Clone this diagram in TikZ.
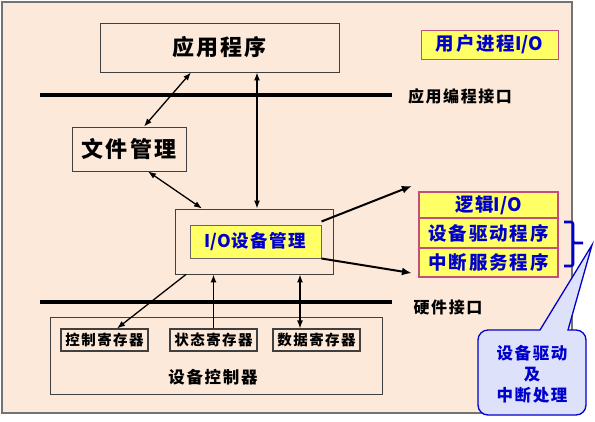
\documentclass[tikz,border=0pt]{standalone}
\usepackage{fontspec}
\newfontfamily\cjk{Noto Sans CJK SC}[LetterSpace=10]
\newfontfamily\iofont{Noto Sans CJK SC}
\newcommand{\IO}{{\iofont\bfseries I/O}}
\usetikzlibrary{arrows.meta,calc}
\definecolor{bgpeach}{HTML}{FDE9D9}
\definecolor{ylw}{HTML}{FFFF66}
\definecolor{pinkb}{HTML}{C0507A}
\definecolor{txtblue}{HTML}{0000CC}
\definecolor{calloutfill}{HTML}{DDE2FA}
\newcommand{\fs}[1]{\fontsize{#1}{#1}\selectfont}
\begin{document}
\begin{tikzpicture}[x=1pt,y=-1pt,font=\cjk\bfseries,
  plainbox/.style={draw=black!75,line width=0.9pt,inner sep=0pt,anchor=center},
  regbox/.style={plainbox,line width=1.1pt,minimum width=87pt,minimum height=22pt,font=\cjk\bfseries\fs{14.5}},
  yellowbox/.style={draw=pinkb,fill=ylw,inner sep=0pt,text=txtblue},
  stackbox/.style={yellowbox,line width=2.2pt,minimum width=139pt,font=\cjk\bfseries\fs{18.5}},
  dbl/.style={{Latex[length=8pt,width=6pt]}-{Latex[length=8pt,width=6pt]},line width=1.3pt},
  one/.style={-{Latex[length=8pt,width=6pt]},line width=1.3pt},
  thickarrow/.style={-{Latex[length=10pt,width=8pt]},line width=2pt},
  bar/.style={line width=4pt},
  lbl/.style={inner sep=0pt}]
\useasboundingbox (0,0) rectangle (595,421);
% frame
\draw[fill=bgpeach,draw=black!55,line width=1.3pt] (2,2) rectangle (572,413);

% nodes
\node[plainbox,minimum width=239pt,minimum height=49pt,font=\cjk\bfseries\fs{22}] (app) at (219.5,47.5) {应用程序};
\node[plainbox,minimum width=114pt,minimum height=44pt,font=\cjk\bfseries\fs{22}] (filemgmt) at (129,149) {文件管理};
\node[plainbox,minimum width=158pt,minimum height=65pt] (iobox) at (254,241.5) {};
\node[yellowbox,draw=black!60,line width=1pt,minimum width=131pt,minimum height=33pt,font=\cjk\bfseries\fs{17.5}] (ioinner) at (255.5,241.5) {\IO 设备管理};
\node[yellowbox,line width=1pt,minimum width=137pt,minimum height=29pt,font=\cjk\bfseries\fs{18.5}] (userio) at (489.5,44.5) {用户进程\IO};

\node[lbl,font=\cjk\bfseries\fs{16}] (apilabel) at (460,96) {应用编程接口};
\node[lbl,font=\cjk\bfseries\fs{16}] (hwlabel) at (448,307) {硬件接口};

\node[plainbox,minimum width=332pt,minimum height=77pt] (ctrlbox) at (216,355.5) {};
\node[regbox] (reg1) at (104.5,340) {控制寄存器};
\node[regbox] (reg2) at (213.5,340) {状态寄存器};
\node[regbox] (reg3) at (316.5,340) {数据寄存器};
\node[lbl,font=\cjk\bfseries\fs{16.5}] (ctrllabel) at (213,377) {设备控制器};

\node[stackbox,minimum height=26pt] (logic) at (488.5,205) {逻辑\IO};
\node[stackbox,minimum height=30pt] (drv) at (488.5,233) {设备驱动程序};
\node[stackbox,minimum height=29pt] (isr) at (488.5,262.5) {中断服务程序};

% interface bars
\draw[bar] (40,95) -- (392,95);
\draw[bar] (40,302) -- (392,302);

% connectors
\draw[dbl] ([xshift=-28.5pt]app.south) -- ([xshift=15pt]filemgmt.north);
\draw[dbl] ([xshift=19pt]filemgmt.south) -- ([xshift=-52pt]iobox.north);
\draw[dbl] ([xshift=37.5pt]app.south) -- ([xshift=3pt]iobox.north);
\draw[one] ([xshift=-68pt]iobox.south) -- ([xshift=12.5pt]reg1.north);
\draw[one] (reg2.north) -- (reg2.north |- iobox.south);
\draw[dbl] ([xshift=46pt]iobox.south) -- ([xshift=46pt]iobox.south |- reg3.north);
\draw[thickarrow] ([yshift=3pt]ioinner.north east) -- ([xshift=-6pt,yshift=5pt]logic.north west);
\draw[thickarrow] (ioinner.south east) -- ([xshift=-6pt,yshift=5pt]isr.south west);

% bracket
\draw[txtblue,line width=2.6pt,rounded corners=2pt] (564,222) -| (573,243) -- (583,243);
\draw[txtblue,line width=2.6pt,rounded corners=2pt] (573,242) |- (564,266);

% callout
\draw[fill=calloutfill,draw=txtblue,line width=1.3pt]
  (478,340) arc[start angle=180,end angle=90,radius=10pt]
  -- (540,330) -- (592,245) -- (568,330) -- (576,330)
  arc[start angle=90,end angle=0,radius=10pt]
  -- (586,405) arc[start angle=0,end angle=-90,radius=10pt]
  -- (488,415) arc[start angle=-90,end angle=-180,radius=10pt]
  -- cycle;
\node[lbl,align=center,text=txtblue,font=\cjk\bfseries\fontsize{16.5}{21}\selectfont] (callout) at (532,374) {设备驱动\\及\\中断处理};
\end{tikzpicture}
\end{document}
